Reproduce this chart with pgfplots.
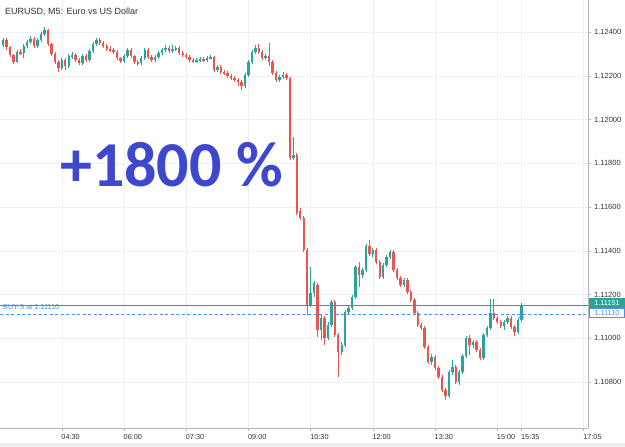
\documentclass[border=0pt]{standalone}
\usepackage{fontspec}
\setmainfont{Liberation Sans}
\newfontfamily\carlito{Carlito}
\usepackage{pgfplots}
\usepackage{pgfplotstable}
\pgfplotsset{compat=1.18}
\definecolor{upc}{HTML}{26A69A}
\definecolor{dnc}{HTML}{EF5350}
\definecolor{bigblue}{HTML}{3F48CC}
\definecolor{buyblue}{HTML}{4A90E2}
\definecolor{axgray}{HTML}{B2B5BE}
\definecolor{gridc}{HTML}{F0F0F0}
\definecolor{txt}{HTML}{333333}
\definecolor{strip}{HTML}{EEEEF0}

\pgfplotstableread{
t o h l c
-17 1.12342 1.12374 1.12333 1.12365
-16 1.12365 1.12374 1.12319 1.12333
-15 1.12333 1.12337 1.12287 1.12296
-14 1.12296 1.12301 1.12255 1.12264
-13 1.12264 1.12319 1.12259 1.12310
-12 1.12310 1.12324 1.12296 1.12305
-11 1.12305 1.12346 1.12282 1.12337
-10 1.12337 1.12365 1.12328 1.12356
-9 1.12356 1.12383 1.12346 1.12369
-8 1.12369 1.12378 1.12328 1.12337
-7 1.12337 1.12374 1.12328 1.12365
-6 1.12365 1.12401 1.12356 1.12392
-5 1.12392 1.12424 1.12383 1.12411
-4 1.12411 1.12415 1.12337 1.12346
-3 1.12346 1.12351 1.12291 1.12301
-2 1.12301 1.12310 1.12255 1.12264
-1 1.12264 1.12273 1.12218 1.12237
0 1.12237 1.12282 1.12227 1.12273
1 1.12273 1.12282 1.12227 1.12246
2 1.12246 1.12301 1.12237 1.12291
3 1.12291 1.12310 1.12278 1.12296
4 1.12296 1.12305 1.12264 1.12273
5 1.12273 1.12282 1.12250 1.12259
6 1.12259 1.12301 1.12250 1.12291
7 1.12291 1.12301 1.12264 1.12273
8 1.12273 1.12324 1.12264 1.12314
9 1.12314 1.12356 1.12305 1.12346
10 1.12346 1.12374 1.12337 1.12365
11 1.12365 1.12374 1.12342 1.12351
12 1.12351 1.12360 1.12328 1.12337
13 1.12337 1.12346 1.12314 1.12324
14 1.12324 1.12337 1.12310 1.12319
15 1.12319 1.12328 1.12301 1.12310
16 1.12310 1.12319 1.12273 1.12282
17 1.12282 1.12287 1.12259 1.12269
18 1.12269 1.12301 1.12259 1.12291
19 1.12291 1.12328 1.12282 1.12319
20 1.12319 1.12328 1.12282 1.12291
21 1.12291 1.12296 1.12255 1.12264
22 1.12264 1.12273 1.12246 1.12259
23 1.12259 1.12291 1.12250 1.12282
24 1.12282 1.12328 1.12273 1.12319
25 1.12319 1.12328 1.12278 1.12287
26 1.12287 1.12296 1.12264 1.12273
27 1.12273 1.12296 1.12264 1.12287
28 1.12287 1.12314 1.12278 1.12305
29 1.12305 1.12328 1.12296 1.12319
30 1.12319 1.12342 1.12310 1.12328
31 1.12328 1.12337 1.12305 1.12314
32 1.12314 1.12342 1.12305 1.12324
33 1.12324 1.12337 1.12314 1.12328
34 1.12328 1.12337 1.12296 1.12305
35 1.12305 1.12314 1.12287 1.12296
36 1.12296 1.12305 1.12278 1.12287
37 1.12287 1.12296 1.12264 1.12273
38 1.12273 1.12282 1.12259 1.12269
39 1.12269 1.12282 1.12259 1.12273
40 1.12273 1.12287 1.12264 1.12278
41 1.12278 1.12287 1.12264 1.12273
42 1.12273 1.12291 1.12264 1.12282
43 1.12282 1.12296 1.12278 1.12287
44 1.12287 1.12291 1.12218 1.12227
45 1.12227 1.12250 1.12218 1.12241
46 1.12241 1.12250 1.12209 1.12218
47 1.12218 1.12227 1.12205 1.12214
48 1.12214 1.12223 1.12191 1.12200
49 1.12200 1.12209 1.12182 1.12191
50 1.12191 1.12200 1.12172 1.12182
51 1.12182 1.12191 1.12154 1.12172
52 1.12172 1.12182 1.12136 1.12154
53 1.12154 1.12214 1.12145 1.12205
54 1.12205 1.12273 1.12195 1.12264
55 1.12264 1.12319 1.12255 1.12310
56 1.12310 1.12342 1.12301 1.12328
57 1.12328 1.12346 1.12301 1.12310
58 1.12310 1.12319 1.12273 1.12282
59 1.12282 1.12301 1.12273 1.12291
60 1.12291 1.12351 1.12246 1.12264
61 1.12264 1.12273 1.12205 1.12214
62 1.12214 1.12223 1.12172 1.12182
63 1.12182 1.12205 1.12172 1.12195
64 1.12195 1.12218 1.12186 1.12205
65 1.12205 1.12214 1.12182 1.12191
66 1.12191 1.12195 1.11815 1.11825
67 1.11825 1.11921 1.11815 1.11838
68 1.11838 1.11848 1.11564 1.11573
69 1.11582 1.11596 1.11541 1.11550
70 1.11550 1.11559 1.11394 1.11404
71 1.11404 1.11413 1.11106 1.11152
72 1.11152 1.11326 1.11143 1.11207
73 1.11207 1.11262 1.11188 1.11253
74 1.11243 1.11253 1.11005 1.11037
75 1.11037 1.11106 1.10992 1.11092
76 1.11092 1.11101 1.10969 1.11001
77 1.11001 1.11074 1.10992 1.11060
78 1.11060 1.11175 1.11051 1.11166
79 1.11166 1.11175 1.11005 1.11014
80 1.11014 1.11024 1.10822 1.10937
81 1.10937 1.10983 1.10923 1.10969
82 1.10969 1.11129 1.10960 1.11120
83 1.11120 1.11152 1.11111 1.11138
84 1.11138 1.11198 1.11129 1.11188
85 1.11188 1.11335 1.11179 1.11326
86 1.11326 1.11349 1.11234 1.11289
87 1.11289 1.11321 1.11275 1.11312
88 1.11312 1.11431 1.11303 1.11422
89 1.11422 1.11449 1.11376 1.11385
90 1.11385 1.11413 1.11372 1.11404
91 1.11404 1.11413 1.11340 1.11349
92 1.11349 1.11358 1.11271 1.11280
93 1.11280 1.11344 1.11271 1.11335
94 1.11335 1.11381 1.11326 1.11372
95 1.11372 1.11404 1.11362 1.11394
96 1.11394 1.11404 1.11303 1.11312
97 1.11312 1.11321 1.11266 1.11275
98 1.11275 1.11285 1.11234 1.11243
99 1.11243 1.11275 1.11234 1.11266
100 1.11266 1.11275 1.11202 1.11211
101 1.11211 1.11221 1.11166 1.11175
102 1.11175 1.11184 1.11106 1.11115
103 1.11115 1.11124 1.11051 1.11060
104 1.11060 1.11069 1.11037 1.11047
105 1.11047 1.11056 1.10950 1.10960
106 1.10960 1.10969 1.10882 1.10891
107 1.10891 1.10927 1.10877 1.10914
108 1.10914 1.10923 1.10854 1.10863
109 1.10863 1.10873 1.10813 1.10822
110 1.10822 1.10831 1.10754 1.10763
111 1.10763 1.10772 1.10717 1.10735
112 1.10735 1.10854 1.10726 1.10845
113 1.10845 1.10900 1.10831 1.10868
114 1.10868 1.10877 1.10790 1.10799
115 1.10799 1.10854 1.10786 1.10845
116 1.10845 1.10927 1.10836 1.10918
117 1.10918 1.11010 1.10909 1.11001
118 1.11001 1.11014 1.10923 1.10969
119 1.10969 1.10992 1.10955 1.10983
120 1.10983 1.10992 1.10937 1.10946
121 1.10946 1.10955 1.10900 1.10909
122 1.10909 1.11024 1.10900 1.11014
123 1.11014 1.11056 1.11005 1.11047
124 1.11047 1.11179 1.11037 1.11115
125 1.11115 1.11179 1.11083 1.11092
126 1.11092 1.11101 1.11065 1.11074
127 1.11074 1.11083 1.11047 1.11056
128 1.11056 1.11083 1.11037 1.11074
129 1.11074 1.11101 1.11065 1.11092
130 1.11092 1.11101 1.11042 1.11051
131 1.11051 1.11060 1.11010 1.11028
132 1.11028 1.11092 1.11019 1.11083
133 1.11083 1.11161 1.11074 1.11151
}\candles

\pgfplotsset{
  candle/.style={only marks, mark=*, mark size=0pt, mark options={draw=none, fill=none}, forget plot},
}

\begin{document}
\begin{tikzpicture}
\path[use as bounding box] (0,0) rectangle (625pt,447pt);
\fill[white] (0,0) rectangle (625pt,447pt);
\fill[strip] (0,0) rectangle (625pt,4pt);
\begin{axis}[
  at={(0pt,19pt)}, anchor=south west,
  width=588pt, height=428pt, scale only axis,
  xmin=-17.88, xmax=152.26, ymin=1.10589, ymax=1.12548,
  restrict y to domain=1.0:1.2,
  axis x line*=bottom, axis y line*=right,
  axis line style={-, axgray, line width=0.6pt},
  tick style={axgray, line width=0.5pt},
  tick align=outside, major tick length=3pt,
  grid=major, major grid style={gridc, line width=0.5pt},
  xtick={0,18,36,54,72,90,108,126,133,151},
  xticklabels={04:30,06:00,07:30,09:00,10:30,12:00,13:30,15:00,15:35,17:05},
  xticklabel style={anchor=north west, inner sep=0pt, xshift=-0.5pt, yshift=-3pt, font=\fontsize{7.3}{8}\selectfont, text=txt},
  ytick={1.108,1.110,1.112,1.114,1.116,1.118,1.120,1.122,1.124},
  scaled y ticks=false,
  yticklabel style={anchor=west, inner sep=0pt, xshift=3pt, font=\fontsize{7.5}{8}\selectfont, text=txt,
    /pgf/number format/.cd, fixed, fixed zerofill, precision=5, assume math mode=true},
]
% wicks (up candles: pushed out of range when c<o, and vice versa)
\addplot[candle,
  error bars/.cd, y dir=both, y explicit, error mark=none,
  error bar style={line width=0.7pt, color=upc}]
  table[x=t, y expr={(\thisrow{h}+\thisrow{l})/2 + 10*(\thisrow{c}<\thisrow{o})}, y error expr={(\thisrow{h}-\thisrow{l})/2}] {\candles};
\addplot[candle,
  error bars/.cd, y dir=both, y explicit, error mark=none,
  error bar style={line width=0.7pt, color=dnc}]
  table[x=t, y expr={(\thisrow{h}+\thisrow{l})/2 + 10*(1-(\thisrow{c}<\thisrow{o}))}, y error expr={(\thisrow{h}-\thisrow{l})/2}] {\candles};
% bodies
\addplot[candle,
  error bars/.cd, y dir=both, y explicit, error mark=none,
  error bar style={line width=2.4pt, color=upc}]
  table[x=t, y expr={(\thisrow{o}+\thisrow{c})/2 + 10*(\thisrow{c}<\thisrow{o})}, y error expr={max(abs(\thisrow{c}-\thisrow{o})/2,0.000015)}] {\candles};
\addplot[candle,
  error bars/.cd, y dir=both, y explicit, error mark=none,
  error bar style={line width=2.4pt, color=dnc}]
  table[x=t, y expr={(\thisrow{o}+\thisrow{c})/2 + 10*(1-(\thisrow{c}<\thisrow{o}))}, y error expr={max(abs(\thisrow{c}-\thisrow{o})/2,0.000015)}] {\candles};
% price lines
\addplot[upc, line width=0.8pt, forget plot] coordinates {(-17.88,1.11151) (152.26,1.11151)};
\addplot[buyblue, line width=0.7pt, dash pattern=on 3pt off 2.5pt, forget plot] coordinates {(-17.88,1.11110) (152.26,1.11110)};
% buy arrow
\addplot[buyblue, line width=1.1pt, forget plot] coordinates {(133,1.11078) (133,1.11098)};
\addplot[only marks, mark=triangle*, mark size=2.4pt, buyblue, forget plot] coordinates {(133,1.11100)};
\end{axis}
% title
\node[anchor=west, inner sep=0pt, font=\fontsize{9}{10}\selectfont, text=txt] at (5pt,435pt) {EURUSD, M5: Euro vs US Dollar};
% big text
\node[anchor=base west, inner sep=0pt, text=bigblue, font=\carlito\bfseries\fontsize{64}{64}\selectfont] at (60pt,260pt) {+1800 \%};
% buy label
\node[anchor=base west, inner sep=0pt, text=buyblue, font=\fontsize{7.3}{8}\selectfont] at (3pt,137.5pt) {BUY 5 at 1.11110};
% right price labels
\fill[upc] (589pt,139pt) rectangle (625pt,149pt);
\node[text=white, font=\fontsize{7.3}{8}\selectfont, inner sep=0pt] at (607pt,144pt) {1.11151};
\filldraw[fill=white, draw=buyblue, line width=0.6pt] (589.3pt,129.3pt) rectangle (624.7pt,138.7pt);
\node[text=buyblue, font=\fontsize{7.3}{8}\selectfont, inner sep=0pt] at (607pt,134pt) {1.11110};
\end{tikzpicture}
\end{document}
